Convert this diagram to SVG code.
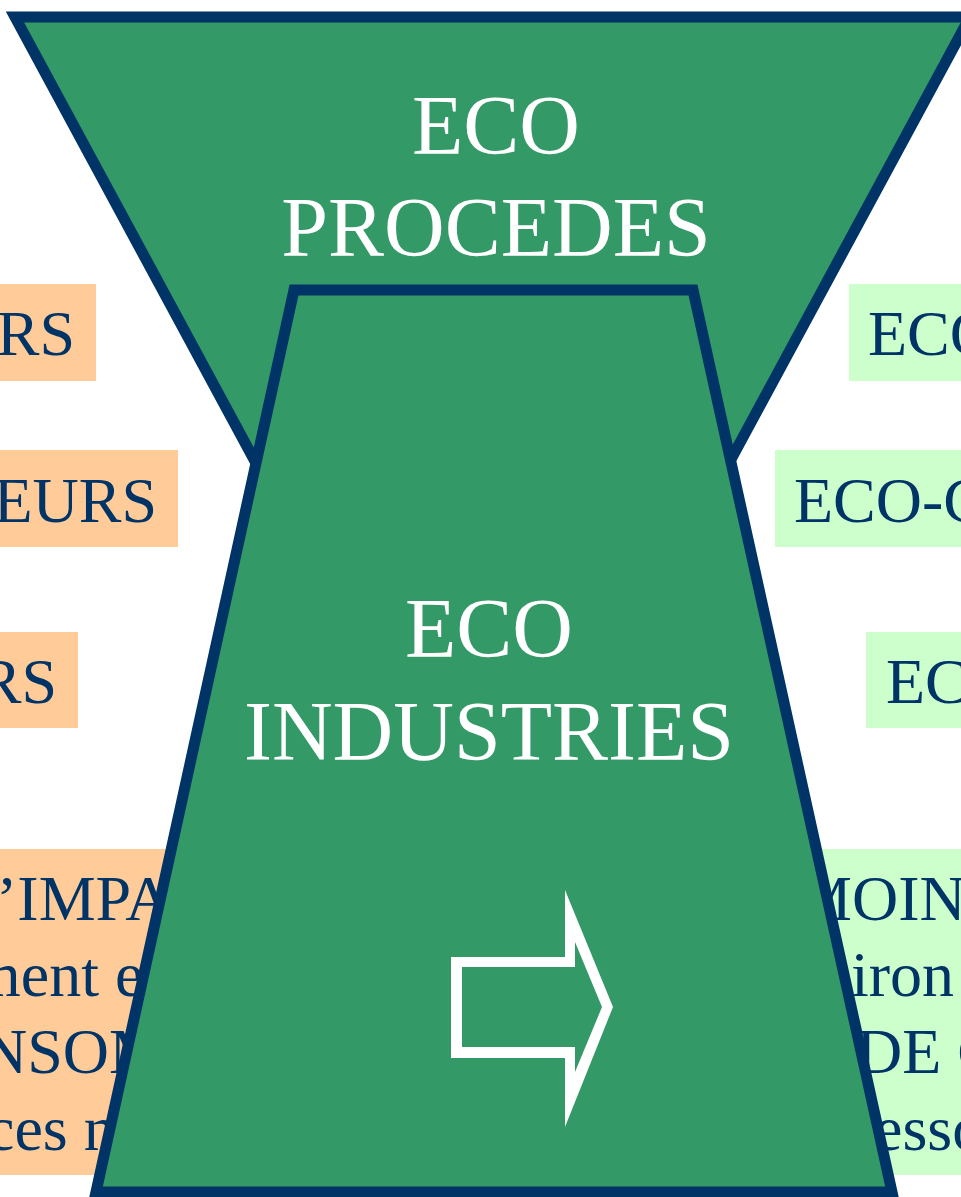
<svg xmlns="http://www.w3.org/2000/svg" width="961" height="1197" viewBox="0 0 961 1197">
<style>
.box-l{fill:#FFCC99}
.box-r{fill:#CCFFCC}
.lbl{font-family:"Liberation Serif","Times New Roman",serif;font-size:64px;fill:#003366}
.big{font-family:"Liberation Serif","Times New Roman",serif;font-size:84px;fill:#FFFFFF;text-anchor:middle}
.shape{fill:#339966;stroke:#003366;stroke-width:11;stroke-linejoin:miter}
</style>
<rect width="961" height="1197" fill="#FFFFFF"/>
<g id="left-boxes">
  <g id="left-1"><rect class="box-l" x="0" y="284" width="96" height="97"/><text class="lbl" x="75" y="355" text-anchor="end">RS</text></g>
  <g id="left-2"><rect class="box-l" x="0" y="450" width="178" height="97"/><text class="lbl" x="157" y="522" text-anchor="end">EURS</text></g>
  <g id="left-3"><rect class="box-l" x="0" y="632" width="78" height="96"/><text class="lbl" x="57" y="703" text-anchor="end">RS</text></g>
  <g id="left-4"><rect class="box-l" x="0" y="849" width="300" height="326"/>
    <text class="lbl" x="-4" y="920">’IMPA</text>
    <text class="lbl" x="-29" y="996">ment e</text>
    <text class="lbl" x="-19" y="1073">NSOM</text>
    <text class="lbl" x="-14" y="1150">ces n</text>
  </g>
</g>
<g id="right-boxes">
  <g id="right-1"><rect class="box-r" x="849" y="284" width="112" height="97"/><text class="lbl" x="868" y="355">ECO</text></g>
  <g id="right-2"><rect class="box-r" x="775" y="450" width="186" height="97"/><text class="lbl" x="794" y="522">ECO-C</text></g>
  <g id="right-3"><rect class="box-r" x="866" y="632" width="95" height="96"/><text class="lbl" x="886" y="703">EC</text></g>
  <g id="right-4"><rect class="box-r" x="780" y="849" width="181" height="326"/>
    <text class="lbl" x="795" y="920">MOIN</text>
    <text class="lbl" x="851" y="996">iron</text>
    <text class="lbl" x="856" y="1073">DE C</text>
    <text class="lbl" x="874" y="1150">esso</text>
  </g>
</g>
<g id="eco-procedes">
  <polygon class="shape" points="15,17 970,17 601,700 384,700"/>
  <text class="big" x="496" y="154">ECO</text>
  <text class="big" x="496" y="256">PROCEDES</text>
</g>
<g id="eco-industries">
  <polygon class="shape" points="294,290 693,290 892,1192 96,1192"/>
  <text class="big" x="489" y="657">ECO</text>
  <text class="big" x="489" y="760">INDUSTRIES</text>
</g>
<g id="connectors">
  <path fill="#FFFFFF" fill-rule="evenodd" d="M451,957 L565,957 L565,890 L613,1007 L565,1127 L565,1058 L451,1058 Z M462,967 L462,1047 L575,1047 L575,1072 L602,1007 L575,942 L575,967 Z"/>
</g>
</svg>
